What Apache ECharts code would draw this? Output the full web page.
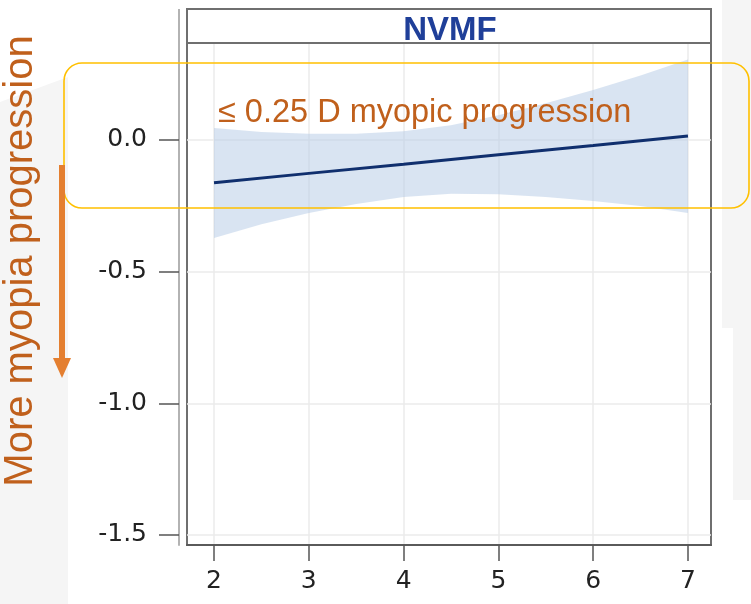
<!DOCTYPE html>
<html>
<head>
<meta charset="utf-8">
<script src="https://cdn.jsdelivr.net/npm/echarts@6/dist/echarts.min.js"></script>
<style>
html, body { margin: 0; padding: 0; background: #fff; }
#nvmf { width: 751px; height: 604px; }
</style>
</head>
<body>
<div id="nvmf"></div>
<script>
// x ticks / y ticks
var xTicks = [2, 3, 4, 5, 6, 7];
var yTicks = [-1.5, -1.0, -0.5, 0.0];

// fitted line
var fitX = [2, 3, 4, 5, 6, 7];
var fitY = [-0.163, -0.127, -0.092, -0.056, -0.021, 0.015];

// confidence band
var ciX = [2, 2.5, 3, 3.5, 4, 4.5, 5, 5.5, 6, 6.5, 7];
var ciUpper = [0.045, 0.030, 0.023, 0.023, 0.033, 0.056, 0.094, 0.139, 0.190, 0.245, 0.305];
var ciLower = [-0.372, -0.320, -0.277, -0.243, -0.217, -0.204, -0.206, -0.217, -0.232, -0.251, -0.277];

function zip(xs, ys) {
	return xs.map(function(x, i) { return [x, ys[i]]; });
}

var dom = document.getElementById("nvmf");
var myChart = echarts.init(dom);
var option = null;

var orange = '#c0601c';

// band polygon: upper edge left->right, lower edge right->left
function renderBand(params, api) {
	if (params.dataIndex !== 0) return;
	var pts = [];
	for (var i = 0; i < ciX.length; i++) {
		pts.push(api.coord([ciX[i], ciUpper[i]]));
	}
	for (var j = ciX.length - 1; j >= 0; j--) {
		pts.push(api.coord([ciX[j], ciLower[j]]));
	}
	return {
		type: 'polygon',
		shape: { points: pts },
		style: { fill: 'rgba(180,202,230,0.5)' }
	};
}

option = {
	animation: false,
	backgroundColor: '#fff',
	grid: {
		left: 187,
		right: 40,
		top: 43,
		bottom: 59,
		show: true,
		backgroundColor: '#fff',
		borderColor: '#6f6f6f',
		borderWidth: 2
	},
	xAxis: {
		type: 'value',
		min: 1.715,
		max: 7.243,
		minInterval: 1,
		maxInterval: 1,
		axisLine: {
			onZero: false,
			lineStyle: { color: '#5a5a5a', width: 2 }
		},
		axisTick: {
			customValues: xTicks,
			length: 16,
			lineStyle: { color: '#555', width: 1.5 }
		},
		axisLabel: {
			customValues: xTicks,
			margin: 24,
			fontSize: 25,
			fontFamily: 'DejaVu Sans',
			color: '#222'
		},
		splitLine: {
			lineStyle: { color: '#ebebeb', width: 1.5 }
		}
	},
	yAxis: {
		type: 'value',
		min: -1.538,
		max: 0.368,
		minInterval: 0.5,
		maxInterval: 0.5,
		offset: 8,
		axisLine: {
			show: true,
			onZero: false,
			lineStyle: { color: '#b3b3b3', width: 2 }
		},
		axisTick: {
			show: true,
			customValues: yTicks,
			length: 20,
			lineStyle: { color: '#555', width: 1.5 }
		},
		axisLabel: {
			customValues: yTicks,
			margin: 32,
			fontSize: 25,
			fontFamily: 'DejaVu Sans',
			color: '#222',
			formatter: function(v) { return v.toFixed(1); }
		},
		splitLine: {
			lineStyle: { color: '#ebebeb', width: 1.5 }
		}
	},
	series: [{
		name: 'ci',
		type: 'custom',
		renderItem: renderBand,
		data: zip(ciX, ciUpper),
		silent: true,
		z: 2
	}, {
		name: 'fit',
		type: 'line',
		data: zip(fitX, fitY),
		symbol: 'none',
		color: '#102f6e',
		lineStyle: { width: 3, color: '#102f6e' },
		z: 5
	}],
	graphic: [
		// slide background bits
		{ type: 'polygon', shape: { points: [[0, 102], [68, 77], [68, 604], [0, 604]] }, style: { fill: '#f5f5f5' }, z: -10 },
		{ type: 'polygon', shape: { points: [[722, 0], [751, 0], [751, 500], [733, 500], [733, 328], [722, 328]] }, style: { fill: '#f5f5f5' }, z: -10 },
		// strip
		{ type: 'rect', shape: { x: 187, y: 9, width: 524, height: 34 }, style: { fill: '#fff', stroke: '#6f6f6f', lineWidth: 2 }, z: 10 },
		{ type: 'line', shape: { x1: 179, y1: 9, x2: 179, y2: 44 }, style: { stroke: '#b3b3b3', lineWidth: 2 }, z: 10 },
		{ type: 'text', x: 450, y: 31, style: { text: 'NVMF', fontSize: 33, fontWeight: 'bold', fontFamily: 'Liberation Sans', fill: '#1f3f99', align: 'center', verticalAlign: 'middle' }, z: 11 },
		// annotation box
		{ type: 'rect', shape: { x: 64, y: 63, width: 685, height: 145, r: 18 }, style: { fill: 'none', stroke: '#ffc000', lineWidth: 1.6 }, z: 100 },
		{ type: 'text', x: 218, y: 113, style: { text: '\u2264 0.25 D myopic progression', fontSize: 32.5, fontFamily: 'Liberation Sans', fill: orange, align: 'left', verticalAlign: 'middle' }, z: 100 },
		// arrow + side text
		{ type: 'line', shape: { x1: 62, y1: 165, x2: 62, y2: 360 }, style: { stroke: '#e47f30', lineWidth: 6 }, z: 100 },
		{ type: 'polygon', shape: { points: [[53, 358], [71, 358], [62, 378]] }, style: { fill: '#e47f30' }, z: 100 },
		{ type: 'text', x: 21, y: 261, rotation: Math.PI / 2, style: { text: 'More myopia progression', fontSize: 40, fontFamily: 'Liberation Sans', fill: orange, align: 'center', verticalAlign: 'middle' }, z: 100 }
	]
};

if (option && typeof option === "object") {
	myChart.setOption(option, true);
}
</script>
</body>
</html>
